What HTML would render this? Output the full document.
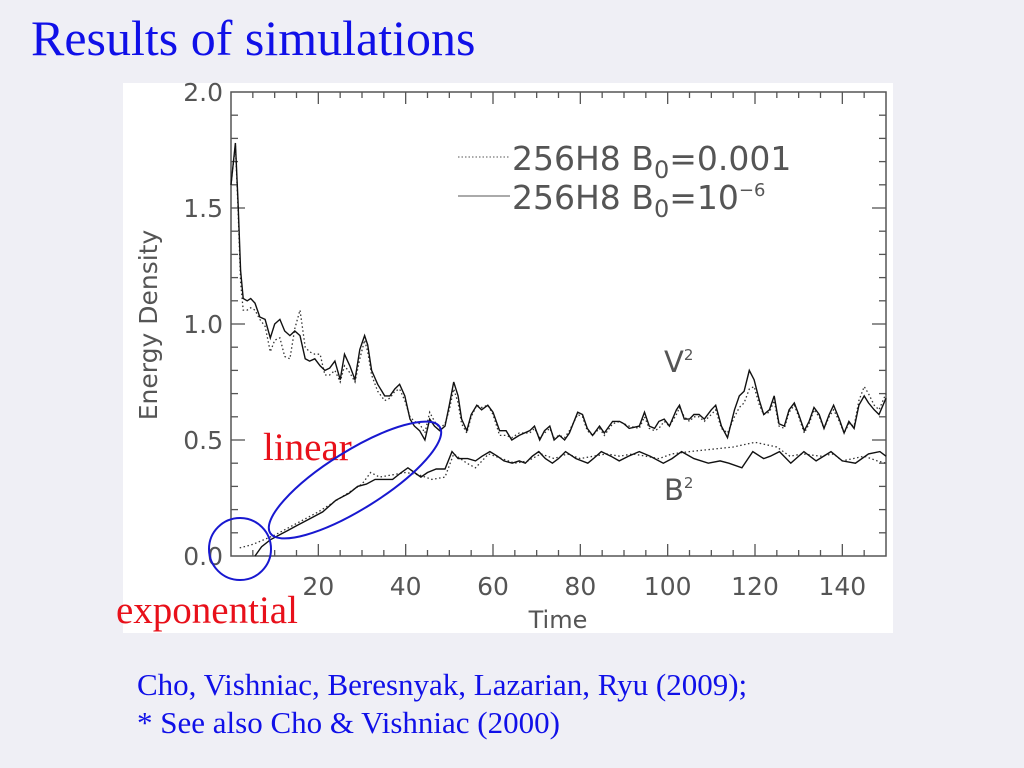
<!DOCTYPE html>
<html><head><meta charset="utf-8"><style>
html,body{margin:0;padding:0;background:#efeff5;}
svg{display:block;}
</style></head><body>
<svg width="1024" height="768" viewBox="0 0 1024 768" xmlns="http://www.w3.org/2000/svg">
<rect x="0" y="0" width="1024" height="768" fill="#efeff5"/>
<text x="31" y="55" font-family="Liberation Serif, serif" font-size="50" fill="#1010e8">Results of simulations</text>
<rect x="123" y="83" width="770" height="550" fill="#ffffff"/>
<g id="chart"></g>
<text x="263" y="460" font-family="Liberation Serif, serif" font-size="39" fill="#e8101a">linear</text>
<text x="116" y="623" font-family="Liberation Serif, serif" font-size="39" fill="#e8101a">exponential</text>
<circle cx="240" cy="549" r="31" fill="none" stroke="#1818d0" stroke-width="2"/>
<ellipse cx="355" cy="480" rx="100" ry="29" transform="rotate(-32 355 480)" fill="none" stroke="#1818d0" stroke-width="2"/>
<text x="137" y="695" font-family="Liberation Serif, serif" font-size="31" fill="#1010e8">Cho, Vishniac, Beresnyak, Lazarian, Ryu  (2009);</text>
<text x="137" y="733" font-family="Liberation Serif, serif" font-size="31" fill="#1010e8">* See also Cho &amp; Vishniac (2000)</text>
</svg>
<script>
const tV = [0,1,1.6,2.2,2.8,3.7,4.5,5.5,6.6,7.8,9,10,11.2,12.3,13.5,14.6,15.8,17,18,19.2,20.4,21.5,22.6,23.8,25,26,27.2,28.4,29.5,30.6,31.3,32.2,33.6,35.2,36.4,37.5,38.6,39.8,41,42,43.2,44.4,45.5,46.6,47.8,49,50,51,52,52.8,54,55,56.3,57.4,58.8,60,61.5,63,64.3,66,68.4,69.5,70.7,71.8,73,74,75.2,76.4,77.5,79.4,80.5,81.6,82.8,84.4,85.5,87.4,89,90,91.2,93.5,94.7,95.8,97,98,99.2,100.4,102,102.7,103.8,105,106,107.2,108.4,110,111,112.3,113.7,115.3,116.4,117.5,118.7,119.8,121,122,123.3,124.4,125.5,126.7,127.8,129,130,131.3,132.4,133.5,134.7,135.8,137,138,139.3,140.4,141.5,142.7,143.8,145,146,147.3,148.4,150];
const v2Solid = [1.60,1.78,1.53,1.23,1.11,1.10,1.11,1.09,1.03,1.02,0.94,1.00,1.02,0.97,0.95,0.97,0.95,0.85,0.84,0.85,0.82,0.80,0.81,0.84,0.76,0.87,0.82,0.76,0.89,0.95,0.91,0.80,0.74,0.69,0.69,0.72,0.74,0.69,0.59,0.56,0.54,0.50,0.59,0.56,0.54,0.56,0.65,0.75,0.69,0.59,0.54,0.61,0.65,0.63,0.65,0.62,0.54,0.54,0.50,0.52,0.54,0.56,0.50,0.54,0.56,0.50,0.52,0.50,0.53,0.62,0.61,0.55,0.52,0.56,0.53,0.58,0.58,0.57,0.55,0.56,0.62,0.56,0.55,0.58,0.59,0.56,0.63,0.65,0.59,0.59,0.61,0.61,0.59,0.63,0.65,0.56,0.51,0.63,0.69,0.71,0.80,0.76,0.67,0.61,0.63,0.69,0.57,0.56,0.63,0.66,0.61,0.54,0.58,0.64,0.61,0.55,0.61,0.65,0.59,0.53,0.58,0.55,0.65,0.69,0.66,0.63,0.61,0.68];
const v2Dotted = [1.60,1.77,1.50,1.18,1.06,1.06,1.07,1.06,1.02,0.99,0.88,0.93,0.94,0.86,0.85,0.98,1.06,0.90,0.88,0.87,0.87,0.78,0.78,0.80,0.75,0.82,0.79,0.75,0.85,0.93,0.88,0.78,0.71,0.67,0.68,0.71,0.72,0.67,0.60,0.58,0.57,0.53,0.62,0.58,0.55,0.57,0.63,0.72,0.66,0.57,0.53,0.60,0.65,0.64,0.65,0.61,0.52,0.52,0.51,0.53,0.53,0.55,0.51,0.53,0.55,0.51,0.52,0.51,0.54,0.61,0.60,0.54,0.52,0.55,0.52,0.57,0.58,0.57,0.56,0.55,0.60,0.55,0.54,0.55,0.58,0.56,0.61,0.64,0.60,0.58,0.60,0.60,0.58,0.61,0.63,0.55,0.53,0.60,0.64,0.66,0.72,0.73,0.65,0.61,0.62,0.67,0.56,0.55,0.62,0.65,0.60,0.53,0.57,0.63,0.60,0.55,0.60,0.63,0.58,0.53,0.57,0.56,0.67,0.73,0.70,0.65,0.63,0.70];
const tB = [5.5,7,9,11,13,15,18,21,24,27,29,31,33,35,37,39,40.5,42,43.5,45,47,49,50.6,52,54.2,56,57.5,59.3,61,62.5,64.4,66,67.4,69,70.5,72,73.6,75,76.6,79,81.7,83,84.8,87,88.9,91,93.5,96,99,101,103.2,106,109.3,112,114,117,119.5,122,123.5,125.6,128.2,131.2,134,137.4,140,143,146,148.6,150];
const b2Solid = [0.00,0.04,0.07,0.09,0.11,0.13,0.16,0.19,0.24,0.27,0.30,0.31,0.33,0.33,0.33,0.36,0.38,0.36,0.34,0.36,0.375,0.375,0.45,0.42,0.42,0.41,0.43,0.45,0.43,0.41,0.40,0.41,0.40,0.43,0.45,0.42,0.40,0.42,0.45,0.42,0.40,0.42,0.45,0.43,0.41,0.43,0.45,0.43,0.40,0.42,0.45,0.42,0.40,0.41,0.40,0.38,0.45,0.42,0.43,0.45,0.40,0.45,0.41,0.45,0.41,0.40,0.44,0.45,0.43];
const tBd = [2,5,10,15,20,25,30,32,34,37,40,43,46,49,51,54,56,59,62,65,68,71,74,77,80,83,86,89,92,95,98,101,105,110,115,120,125,128,131,135,138,140,145,148,150];
const b2Dotted = [0.035,0.05,0.09,0.14,0.19,0.25,0.31,0.36,0.34,0.35,0.36,0.35,0.33,0.34,0.44,0.40,0.38,0.44,0.42,0.40,0.41,0.44,0.42,0.44,0.42,0.43,0.44,0.43,0.44,0.43,0.42,0.44,0.45,0.46,0.47,0.49,0.47,0.43,0.44,0.43,0.44,0.41,0.43,0.41,0.40];
const xTickLabels = ["20","40","60","80","100","120","140"];
const xTickValues = [20,40,60,80,100,120,140];
const yTickLabels = ["0.0","0.5","1.0","1.5","2.0"];
const yTickValues = [0,0.5,1,1.5,2];

const NS = "http://www.w3.org/2000/svg";
const X0 = 231, X1 = 886, Y0 = 556, Y1 = 92;
const xMin = 0, xMax = 150, yMin = 0, yMax = 2;
function sx(t){ return X0 + (t - xMin) / (xMax - xMin) * (X1 - X0); }
function sy(v){ return Y0 - (v - yMin) / (yMax - yMin) * (Y0 - Y1); }
const chart = document.getElementById('chart');
function mk(tag, attrs, parent){
  const e = document.createElementNS(NS, tag);
  for (const k in attrs) e.setAttribute(k, attrs[k]);
  (parent || chart).appendChild(e);
  return e;
}
const axisCol = "#555";
const frame = mk('rect', {x:X0, y:Y1, width:X1-X0, height:Y0-Y1, fill:'none', stroke:axisCol, 'stroke-width':1.5});


for (let t = 5; t < 150; t += 5) {
  const major = t % 20 === 0;
  const len = major ? 12 : 6;
  const b = mk('line', {x1:sx(t), x2:sx(t), y1:Y0, y2:Y0-len, stroke:axisCol, 'stroke-width':1.3});
  
  
  const tp = mk('line', {x1:sx(t), x2:sx(t), y1:Y1, y2:Y1+len, stroke:axisCol, 'stroke-width':1.3});
  
  
}
for (let i = 1; i < 20; i++) {
  const v = i * 0.1;
  const major = i % 5 === 0;
  const len = major ? 14 : 7;
  const l = mk('line', {x1:X0, x2:X0+len, y1:sy(v), y2:sy(v), stroke:axisCol, 'stroke-width':1.3});
  
  
  const r = mk('line', {x1:X1, x2:X1-len, y1:sy(v), y2:sy(v), stroke:axisCol, 'stroke-width':1.3});
  
  
}
const fontAx = "DejaVu Sans, Liberation Sans, sans-serif";
xTickLabels.forEach((s, i) => {
  const tx = mk('text', {x:sx(xTickValues[i]), y:Y0+39, 'text-anchor':'middle', 'font-family':fontAx, 'font-size':25, fill:'#555'});
  tx.textContent = s;
  
  
});
yTickLabels.forEach((s, i) => {
  const tx = mk('text', {x:X0-8, y:sy(yTickValues[i])+9, 'text-anchor':'end', 'font-family':fontAx, 'font-size':25, fill:'#555'});
  tx.textContent = s;
  
  
});
const xt = mk('text', {x:558, y:628, 'text-anchor':'middle', 'font-family':fontAx, 'font-size':24, fill:'#555'});
xt.textContent = 'Time';


const yt = mk('text', {x:0, y:0, 'text-anchor':'middle', 'font-family':fontAx, 'font-size':25, fill:'#555', transform:'translate(157,325) rotate(-90)'});
yt.textContent = 'Energy Density';



function path(ts, vs){
  return ts.map((t, i) => (i ? 'L' : 'M') + sx(t).toFixed(1) + ' ' + sy(vs[i]).toFixed(1)).join(' ');
}
const p1 = mk('path', {d:path(tV, v2Dotted), fill:'none', stroke:'#333', 'stroke-width':1.3, 'stroke-dasharray':'1.5 2.5'});


const p2 = mk('path', {d:path(tV, v2Solid), fill:'none', stroke:'#111', 'stroke-width':1.4});


const p3 = mk('path', {d:path(tBd, b2Dotted), fill:'none', stroke:'#333', 'stroke-width':1.3, 'stroke-dasharray':'1.5 2.5'});


const p4 = mk('path', {d:path(tB, b2Solid), fill:'none', stroke:'#111', 'stroke-width':1.4});



const lg = mk('g', {});


const l1 = mk('line', {x1:458, x2:510, y1:157, y2:157, stroke:'#777', 'stroke-width':1.2, 'stroke-dasharray':'1.5 2'}, lg);


const l2 = mk('line', {x1:458, x2:510, y1:196, y2:196, stroke:'#777', 'stroke-width':1.2}, lg);


const t1 = mk('text', {x:512, y:170, 'font-family':fontAx, 'font-size':33, fill:'#555'}, lg);
t1.innerHTML = '256H8 B<tspan dy="8" font-size="24">0</tspan><tspan dy="-8">=0.001</tspan>';


const t2 = mk('text', {x:512, y:209, 'font-family':fontAx, 'font-size':33, fill:'#555'}, lg);
t2.innerHTML = '256H8 B<tspan dy="8" font-size="24">0</tspan><tspan dy="-8">=10</tspan><tspan dy="-13" font-size="18">−6</tspan>';


const vl = mk('text', {x:664, y:372, 'font-family':fontAx, 'font-size':29, fill:'#555'});
vl.innerHTML = 'V<tspan dy="-12" font-size="15">2</tspan>';


const bl = mk('text', {x:664, y:500, 'font-family':fontAx, 'font-size':29, fill:'#555'});
bl.innerHTML = 'B<tspan dy="-12" font-size="15">2</tspan>';


</script>
</body></html>
